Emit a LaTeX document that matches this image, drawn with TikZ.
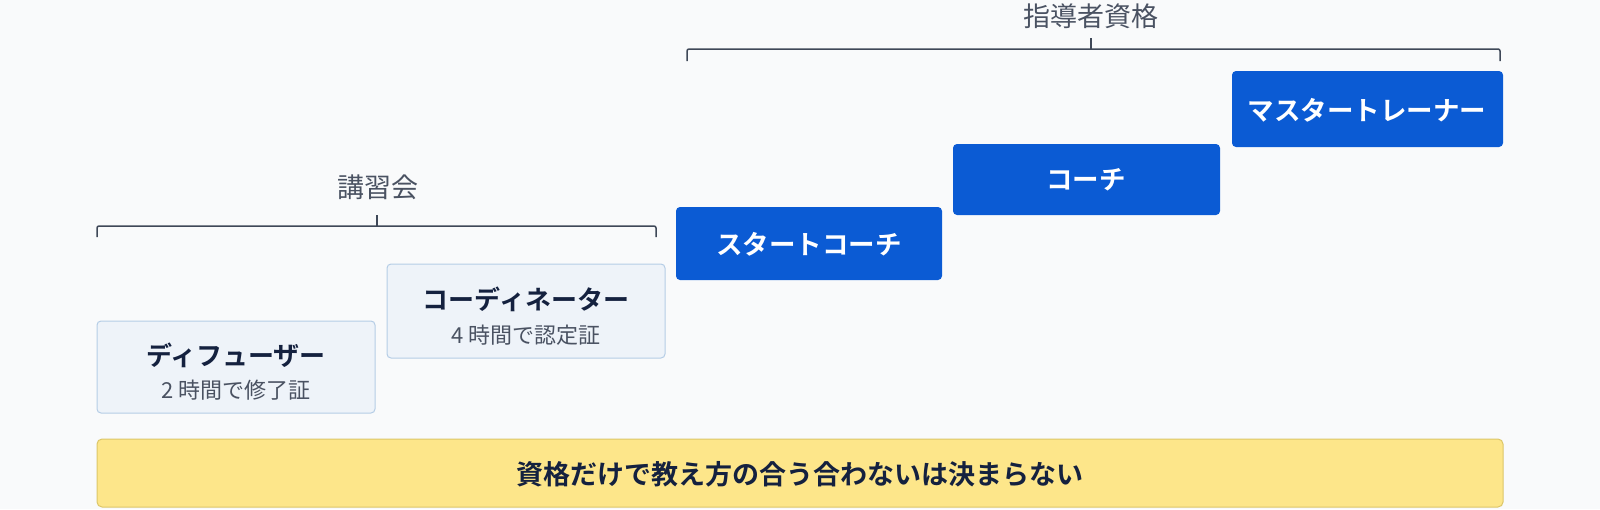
\documentclass[tikz,border=0pt]{standalone}
\usepackage{fontspec}
\setmainfont{Noto Sans CJK JP}[BoldFont={Noto Sans CJK JP Bold}]
\definecolor{bgc}{HTML}{F9FAFB}
\definecolor{bluebox}{HTML}{0B5BD4}
\definecolor{lightfill}{HTML}{EEF3F9}
\definecolor{lightedge}{HTML}{B5CDE6}
\definecolor{yellowfill}{HTML}{FDE68A}
\definecolor{yellowedge}{HTML}{DCC668}
\definecolor{navy}{HTML}{14213F}
\definecolor{subgray}{HTML}{4A5262}
\definecolor{brk}{HTML}{3F4858}
\tikzset{
  lightbox/.style={draw=lightedge, fill=lightfill, line width=1pt, rounded corners=4pt},
  bluerect/.style={fill=bluebox, rounded corners=4pt},
  yellowrect/.style={draw=yellowedge, fill=yellowfill, line width=1pt, rounded corners=5pt},
  titletext/.style={font=\fontsize{26}{30}\selectfont\bfseries, text=navy},
  subtext/.style={font=\fontsize{22}{26}\selectfont, text=subgray},
  bluetext/.style={font=\fontsize{26.5}{30}\selectfont\bfseries, text=white},
  grouptext/.style={font=\fontsize{27}{32}\selectfont, text=subgray},
  bracketline/.style={draw=brk, line width=1.5pt, rounded corners=2pt},
  boxnode/.style={inner sep=0pt, outer sep=0pt}
}
\begin{document}
\begin{tikzpicture}[x=1pt, y=-1pt]
\useasboundingbox (0,0) rectangle (1600,509);
\fill[bgc] (0,0) rectangle (1600,509);

% group 講習会
\coordinate (kL) at (97,237);
\coordinate (kLt) at (97,226);
\coordinate (kR) at (656,237);
\coordinate (kRt) at (656,226);
\coordinate (kC) at (377,226);
\coordinate (kCt) at (377,215);
\draw[bracketline] (kL) -- (kLt) -- (kRt) -- (kR);
\draw[draw=brk, line width=1.5pt] (kC) -- (kCt);
\node[grouptext] (kosyu) at (378,187) {講習会};

% group 指導者資格
\coordinate (sL) at (687,61);
\coordinate (sLt) at (687,49);
\coordinate (sR) at (1500,61);
\coordinate (sRt) at (1500,49);
\coordinate (sC) at (1091,49);
\coordinate (sCt) at (1091,38);
\draw[bracketline] (sL) -- (sLt) -- (sRt) -- (sR);
\draw[draw=brk, line width=1.5pt] (sC) -- (sCt);
\node[grouptext] (shido) at (1091,16) {指導者資格};

% light boxes
\draw[lightbox] (97,321) rectangle (375,413);
\node[titletext] (diff) at (236,355) {ディフューザー};
\node[subtext] (diffsub) at (236,390) {2 時間で修了証};

\draw[lightbox] (387,264) rectangle (665,358);
\node[titletext] (coord) at (526,299) {コーディネーター};
\node[subtext] (coordsub) at (526,335) {4 時間で認定証};

% blue boxes
\fill[bluerect] (676,207) rectangle (942,280);
\node[bluetext] (start) at (809,244) {スタートコーチ};

\fill[bluerect] (953,144) rectangle (1220,215);
\node[bluetext] (coach) at (1086,180) {コーチ};

\fill[bluerect] (1232,71) rectangle (1503,147);
\node[bluetext] (master) at (1367,110) {マスタートレーナー};

% yellow bar
\draw[yellowrect] (97,439) rectangle (1503,507);
\node[font=\fontsize{27}{32}\selectfont\bfseries, text=navy] (msg) at (800,474) {資格だけで教え方の合う合わないは決まらない};
\end{tikzpicture}
\end{document}
